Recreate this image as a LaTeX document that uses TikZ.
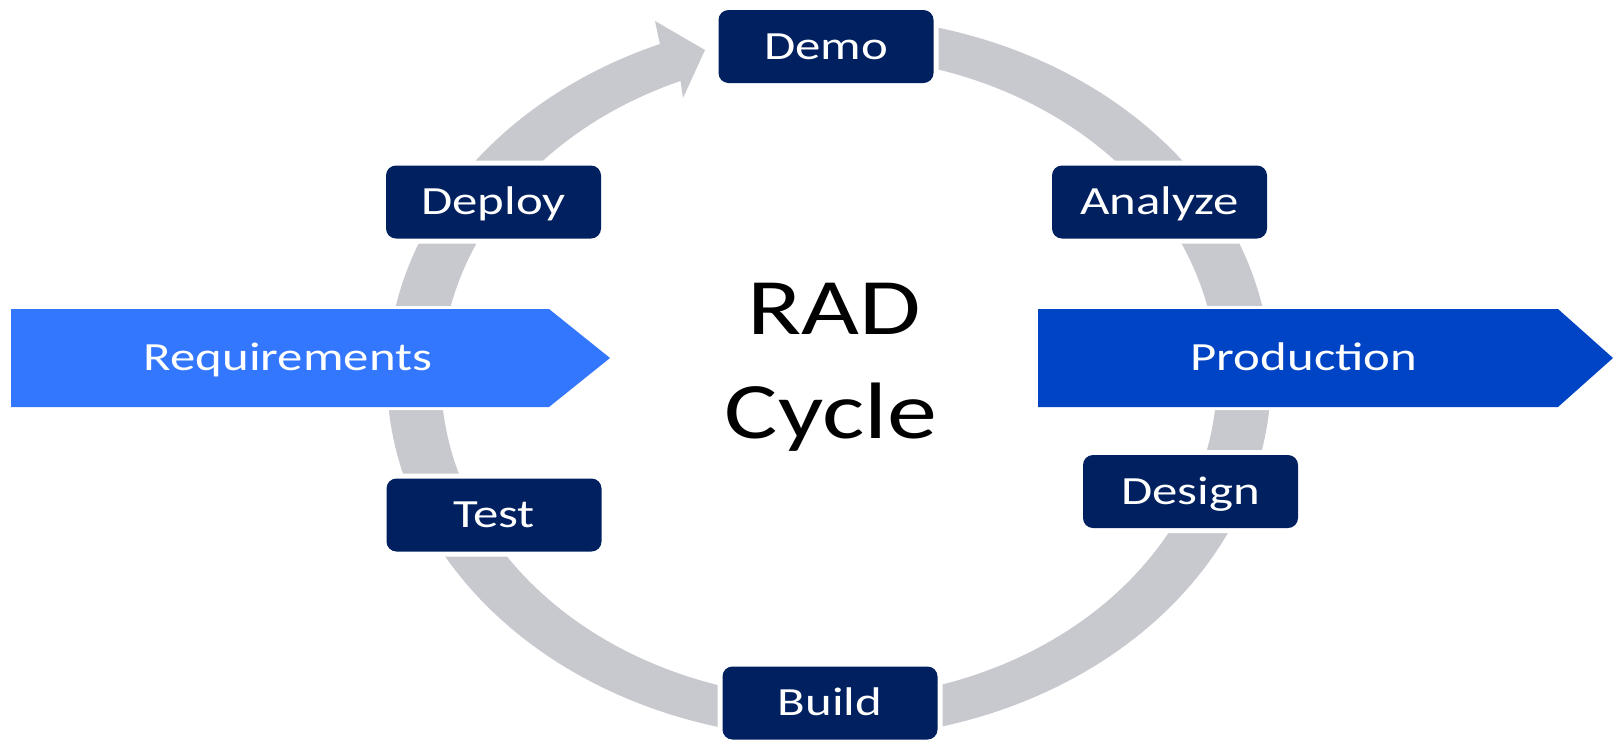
\documentclass[tikz,border=0pt]{standalone}
\usepackage{fontspec}
\setmainfont{Carlito}
\usepackage{graphicx}
\definecolor{ringgray}{RGB}{200,201,206}
\definecolor{navy}{RGB}{0,32,96}
\definecolor{reqblue}{RGB}{51,119,255}
\definecolor{prodblue}{RGB}{0,68,198}
% labels are set slightly wide
\newcommand{\wide}[1]{\scalebox{1.27}[1]{#1}}
\newcommand{\widetitle}[1]{\scalebox{1.25}[1]{#1}}
\begin{document}
\begin{tikzpicture}[x=0.5pt,y=-0.5pt,
  stagebox/.style={preaction={draw=white,line width=5pt}, fill=navy,
    rounded corners=5pt, minimum width=107.5pt, minimum height=36.5pt,
    inner sep=0pt, text=white, font=\fontsize{20pt}{24pt}\selectfont,
    text height=12.9pt, text depth=0pt},
  flowshape/.style={preaction={draw=white,line width=3pt}},
  flowtext/.style={text=white, inner sep=0pt,
    font=\fontsize{20pt}{24pt}\selectfont, text height=12.9pt, text depth=0pt},
  bigtext/.style={inner sep=0pt, anchor=base, text=black,
    font=\fontsize{40pt}{48pt}\selectfont}]
\path[use as bounding box] (0,0) rectangle (1618,740);

% circular arrow of the cycle (elliptic band ending in an arrowhead)
\fill[ringgray]
  plot[domain=90:-247.5,samples=241] ({829+442*cos(\x)},{377.5-361*sin(\x)})
  -- (655,21) -- (705,50) -- (683,98)
  -- plot[domain=-247.5:90,samples=241] ({829+388*cos(\x)},{377.5-321*sin(\x)})
  -- cycle;

% entry and exit arrows
\path[flowshape, fill=reqblue] (11,309) -- (549,309) -- (610,358) -- (549,407) -- (11,407) -- cycle;
\node[flowtext] (req) at (288,358) {\wide{Requirements}};
\path[flowshape, fill=prodblue] (1038,309) -- (1558,309) -- (1613,358) -- (1558,407) -- (1038,407) -- cycle;
\node[flowtext] (prod) at (1304,358) {\wide{Production}};

% stages
\node[stagebox] (demo)    at (826,46.5)   {\wide{Demo}};
\node[stagebox] (deploy)  at (493.5,202)  {\wide{Deploy}};
\node[stagebox] (analyze) at (1159.5,202) {\wide{Analyze}};
\node[stagebox] (test)    at (494,515)    {\wide{Test}};
\node[stagebox] (design)  at (1190.5,491.5) {\wide{Design}};
\node[stagebox] (build)   at (830,703)    {\wide{Build}};

% title in the middle
\node[bigtext] (rad)   at (834,334) {\widetitle{RAD}};
\node[bigtext] (cycle) at (831,438) {\widetitle{Cycle}};
\end{tikzpicture}
\end{document}
